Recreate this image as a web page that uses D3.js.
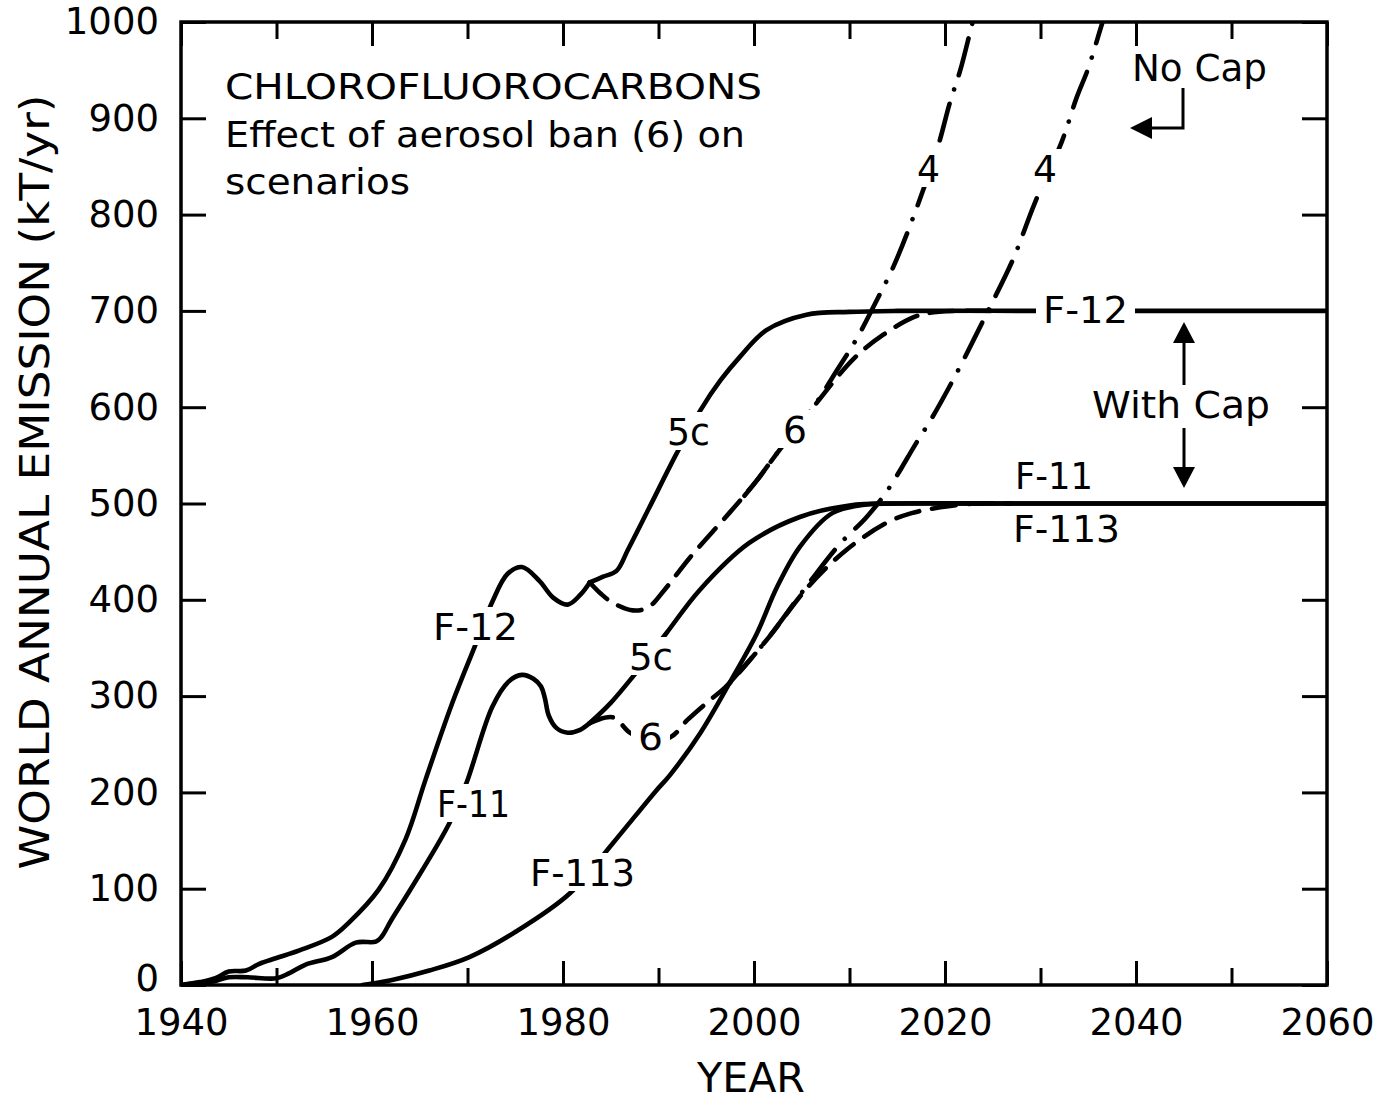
<!DOCTYPE html>
<html><head><meta charset="utf-8">
<script src="https://cdn.jsdelivr.net/npm/d3@7"></script>
<style>body{margin:0;background:#fff}svg{display:block}</style>
</head><body><svg id="c" width="1391" height="1101"></svg>
<script>
// ---------- data (year, kT/yr) ----------
const xDomain = [1940, 2060];
const yDomain = [0, 1000];
const xMajorTicks = [1940, 1960, 1980, 2000, 2020, 2040, 2060];
const xMinorTicks = [1950, 1970, 1990, 2010, 2030, 2050];
const yTicks = [0, 100, 200, 300, 400, 500, 600, 700, 800, 900, 1000];

const f12Base = [[1940,0],[1942,3],[1943.6,7],[1945,14],[1946.8,15],[1948.2,22],[1950,28],[1952.4,36],[1955.8,50],[1957.5,64],[1960.7,99],[1963.5,151],[1965.6,213],[1968.3,290],[1970.9,355],[1972.6,398],[1974.2,427],[1975.7,434],[1977.5,420],[1979,402],[1980.5,395],[1981.8,405],[1982.8,418]];
const f12Sc5c = [[1982.8,418],[1984.2,424],[1985.6,430],[1986.8,452],[1989,495],[1991.9,552],[1994.4,597],[1996.5,628],[1998.5,652],[2001.3,680],[2005.5,696],[2010,699],[2015,700],[2030,700],[2045,700],[2060,700]];
const f12Sc6 = [[1982.8,418],[1984,406],[1985.2,397],[1987.3,389],[1988.9,392],[1990.6,410],[1993.3,444],[1997.4,490],[2000.3,524],[2002.7,556],[2006.2,600],[2010.4,650],[2013.5,675],[2016.6,693],[2018.4,698],[2021,700],[2025,700]];
const f12Sc4 = [[1999,508],[2000.3,524],[2002.7,556],[2006.2,600],[2008.6,637],[2010.8,672],[2012.8,710],[2014.6,746],[2016.7,798],[2019.3,872],[2020.5,916],[2021.6,950],[2022.9,1000],[2024,1040]];

const f11Base = [[1940,0],[1942,2],[1943.5,4],[1945,8],[1947,8],[1950,7],[1951.3,12],[1953,21],[1955.8,29],[1958.3,44],[1960.4,45],[1961,50],[1962,67],[1964.2,102],[1968.1,168],[1969.9,210],[1972.6,289],[1974.3,315],[1975.7,322],[1976.9,318],[1977.7,310],[1978.1,298],[1978.5,280],[1979.3,267],[1980.5,262],[1981.8,265],[1982.8,272]];
const f11Sc5c = [[1982.8,272],[1985,293],[1987.3,320],[1990.8,365],[1994.3,410],[1999.5,459],[2004.8,486],[2010,498],[2015,500],[2025,500],[2040,500],[2060,500]];
const f11Sc6 = [[1982.8,272],[1985.2,278],[1987,262],[1988.5,255],[1991.2,257],[1993,275],[1995.4,296],[1997.1,310],[2001.3,358],[2005.8,415],[2009.7,452],[2013.9,480],[2016.5,490],[2019.5,496],[2023,500],[2027,500]];
const f11Sc4 = [[1997.1,310],[2001.3,358],[2005.8,418],[2009,458],[2011.8,486],[2014,514],[2017,563],[2018.7,590],[2021.2,635],[2024.4,698],[2027.1,753],[2029.4,812],[2032.2,875],[2033.8,922],[2035,952],[2036.5,1000],[2037.5,1030]];

const f113Base = [[1959,0],[1962,5],[1966,15],[1970.2,29],[1975,55],[1980.7,95],[1985.2,147],[1989.6,200],[1991.2,218],[1994.4,262],[1997.8,320],[2000.3,365],[2002.4,413],[2004.8,455],[2008.2,490],[2011.8,499],[2015,500],[2025,500],[2040,500],[2060,500]];

// ---------- layout ----------
const FONT = "DejaVu Sans";
const svg = d3.select("#c");
const P = {l:181, r:1327, t:22, b:985};
const x = d3.scaleLinear().domain(xDomain).range([P.l, P.r]);
const y = d3.scaleLinear().domain(yDomain).range([P.b, P.t]);

svg.append("defs").append("clipPath").attr("id","plotclip")
  .append("rect").attr("x",P.l).attr("y",P.t).attr("width",P.r-P.l).attr("height",P.b-P.t);

// axes (inward ticks)
function styleAxis(g){
  g.select(".domain").remove();
  g.selectAll(".tick line").attr("stroke","#000").attr("stroke-width",3);
  g.selectAll(".tick text").attr("fill","#000").style("font-family",FONT).style("font-size","37px");
}
svg.append("g").attr("transform",`translate(0,${P.b})`)
  .call(d3.axisBottom(x).tickValues(xMajorTicks).tickSize(-24).tickPadding(24).tickFormat(d3.format("d")))
  .call(styleAxis);
svg.append("g").attr("transform",`translate(0,${P.b})`)
  .call(d3.axisBottom(x).tickValues(xMinorTicks).tickSize(-17).tickFormat(""))
  .call(styleAxis);
svg.append("g").attr("transform",`translate(0,${P.t})`)
  .call(d3.axisTop(x).tickValues(xMajorTicks).tickSize(-24).tickFormat(""))
  .call(styleAxis);
svg.append("g").attr("transform",`translate(0,${P.t})`)
  .call(d3.axisTop(x).tickValues(xMinorTicks).tickSize(-17).tickFormat(""))
  .call(styleAxis);
const yAxisG = svg.append("g").attr("transform",`translate(${P.l},0)`)
  .call(d3.axisLeft(y).tickValues(yTicks).tickSize(-25).tickPadding(22).tickFormat(d3.format("d")))
  .call(styleAxis);
// lift the "0" label a little so it clears the year labels
yAxisG.selectAll(".tick").filter(d => d === 0).select("text").attr("y", -6);
svg.append("g").attr("transform",`translate(${P.r},0)`)
  .call(d3.axisRight(y).tickValues(yTicks).tickSize(-25).tickFormat(""))
  .call(styleAxis);

svg.append("rect").attr("x",P.l).attr("y",P.t).attr("width",P.r-P.l).attr("height",P.b-P.t)
  .attr("fill","none").attr("stroke","#000").attr("stroke-width",3.5);

// axis titles
svg.append("text").attr("transform","translate(49,482) rotate(-90)")
  .attr("text-anchor","middle").style("font-family",FONT).style("font-size","40px")
  .attr("textLength",775).attr("lengthAdjust","spacingAndGlyphs")
  .text("WORLD ANNUAL EMISSION (kT/yr)");
svg.append("text").attr("x",751).attr("y",1092)
  .attr("text-anchor","middle").style("font-family",FONT).style("font-size","40px")
  .attr("textLength",108).attr("lengthAdjust","spacingAndGlyphs")
  .text("YEAR");

// curves
const line = d3.line().x(d=>x(d[0])).y(d=>y(d[1])).curve(d3.curveCatmullRom.alpha(0.5));
const curves = svg.append("g").attr("clip-path","url(#plotclip)")
  .attr("fill","none").attr("stroke","#000").attr("stroke-linecap","round").attr("stroke-linejoin","round");
const SOLID = null, DASH = "24,13", DASHDOT = "38,15,0.1,15";
[
  [f12Base, SOLID],[f12Sc5c, SOLID],[f12Sc6, DASH],[f12Sc4, DASHDOT],
  [f11Base, SOLID],[f11Sc5c, SOLID],[f11Sc6, DASH],[f11Sc4, DASHDOT],
  [f113Base, SOLID]
].forEach(([data, dash]) => {
  curves.append("path").datum(data).attr("d", line)
    .attr("stroke-width", 4.6).attr("stroke-dasharray", dash);
});

// labels (x = left, y = baseline, w = width)
const labels = [
  {t:"F-12", x:1043, y:323, w:85, gap:true},
  {t:"F-11", x:1015, y:489, w:78},
  {t:"F-113", x:1013, y:542, w:107},
  {t:"No Cap", x:1132, y:81, w:135},
  {t:"With Cap", x:1092, y:418, w:178, gap:true},
  {t:"4", x:917, y:182, w:23, gap:true},
  {t:"4", x:1033, y:182, w:24, gap:true},
  {t:"5c", x:667, y:445, w:43, gap:true},
  {t:"6", x:783, y:443, w:24, gap:true},
  {t:"F-12", x:433, y:640, w:85, gap:true},
  {t:"5c", x:629, y:670, w:44, gap:true},
  {t:"6", x:638, y:750, w:25, gap:true},
  {t:"F-11", x:437, y:817, w:73, gap:true},
  {t:"F-113", x:530, y:886, w:105, gap:true}
];
const lg = svg.append("g");
labels.forEach(L => {
  if (L.gap) lg.append("rect").attr("x",L.x-7).attr("y",L.y-33).attr("width",L.w+14).attr("height",38).attr("fill","#fff");
  lg.append("text").attr("x",L.x).attr("y",L.y).style("font-family",FONT).style("font-size","38px")
    .attr("textLength",L.w).attr("lengthAdjust","spacingAndGlyphs").text(L.t);
});

// title block
const title = [
  {t:"CHLOROFLUOROCARBONS", y:99, w:537},
  {t:"Effect of aerosol ban (6) on", y:147, w:520},
  {t:"scenarios", y:194, w:185}
];
title.forEach(T => {
  svg.append("text").attr("x",225).attr("y",T.y).style("font-family",FONT).style("font-size","36px")
    .attr("textLength",T.w).attr("lengthAdjust","spacingAndGlyphs").text(T.t);
});

// arrows
const ag = svg.append("g").attr("stroke","#000").attr("stroke-width",3).attr("fill","none");
ag.append("path").attr("d","M1183,88 V128 H1148");
svg.append("path").attr("d","M1130,128 L1152,117 L1152,139 Z").attr("fill","#000");
ag.append("path").attr("d","M1184,385 V338");
svg.append("path").attr("d","M1184,322 L1173,343 L1195,343 Z").attr("fill","#000");
ag.append("path").attr("d","M1184,428 V470");
svg.append("path").attr("d","M1184,488 L1173,467 L1195,467 Z").attr("fill","#000");
</script></body></html>
